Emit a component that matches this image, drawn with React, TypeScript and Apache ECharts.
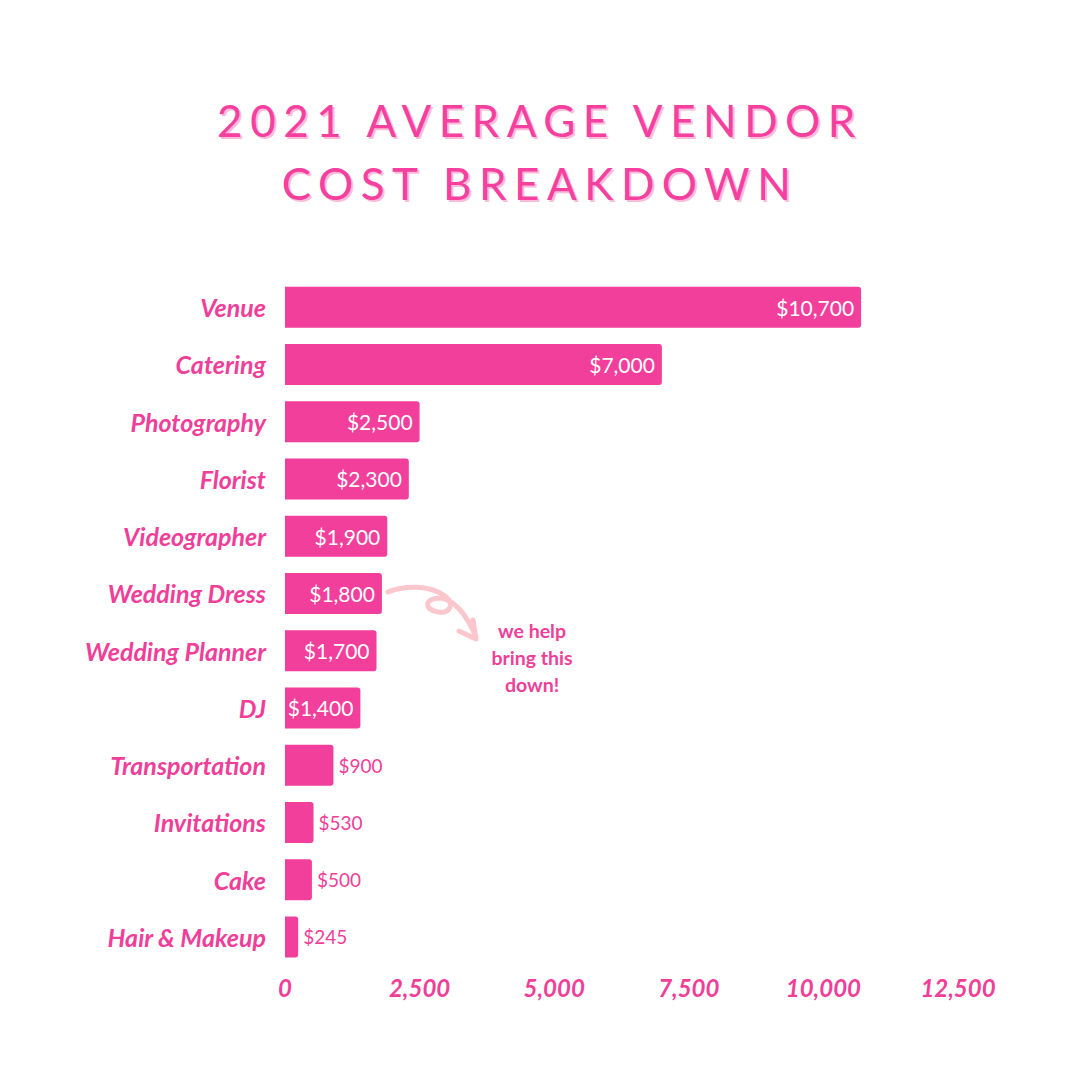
import React, { useEffect, useRef } from "react";
import * as echarts from "echarts";

const categories = [
  "Venue",
  "Catering",
  "Photography",
  "Florist",
  "Videographer",
  "Wedding Dress",
  "Wedding Planner",
  "DJ",
  "Transportation",
  "Invitations",
  "Cake",
  "Hair & Makeup",
];
const costs = [10700, 7000, 2500, 2300, 1900, 1800, 1700, 1400, 900, 530, 500, 245];
const xTicks = [0, 2500, 5000, 7500, 10000, 12500];
const titleLines = ["2021 AVERAGE VENDOR", "COST BREAKDOWN"];
const noteLines = ["we help", "bring this", "down!"];

const PINK = "#F23F9B";
const TEXT_PINK = "#EF3F99";
const LIGHT = "#FBC6CC";

const arrowPath =
  "M388,592 C405,585 430,585 445,596 C455,604 450,614 438,612 C424,610 424,598 440,598 C456,600 468,618 476,637 M459,631 L476,639 L473,620";

export default function App() {
  const ref = useRef<HTMLDivElement>(null);
  useEffect(() => {
    document.body.style.margin = "0";
    const style = document.createElement("style");
    style.textContent = `#root svg text[style*="44px"]{letter-spacing:7.5px;text-shadow:2px 2px 0 #F9BDDA;}`;
    document.head.appendChild(style);
    try {
      echarts.graphic.registerShape("noteArrow", echarts.graphic.extendPath(arrowPath, {}) as any);
    } catch (e) {}
    const chart = echarts.init(ref.current!, null, { renderer: "svg" });
    const fmt = (v: number) => "$" + v.toLocaleString("en-US");
    chart.setOption({
      animation: false,
      backgroundColor: "#ffffff",
      title: {
        text: titleLines.join("\n"),
        left: "center",
        top: 88,
        padding: [0, 0, 0, 8],
        textStyle: {
          fontFamily: "Lato",
          fontSize: 44,
          fontWeight: "normal",
          color: "#F5409F",
          lineHeight: 63,
        },
      },
      grid: { left: 285, right: 122, top: 278.5, bottom: 114.5 },
      xAxis: {
        type: "value",
        min: 0,
        max: 12500,
        interval: 2500,
        axisLine: { show: false },
        axisTick: { show: false },
        splitLine: { show: false },
        axisLabel: {
          margin: 10,
          color: TEXT_PINK,
          fontFamily: "Lato",
          fontStyle: "italic",
          fontWeight: "bold",
          fontSize: 24,
          formatter: (v: number) => (xTicks.includes(v) ? v.toLocaleString("en-US") : ""),
        },
      },
      yAxis: {
        type: "category",
        inverse: true,
        data: categories,
        axisLine: { show: false },
        axisTick: { show: false },
        axisLabel: {
          margin: 19,
          color: TEXT_PINK,
          fontFamily: "Lato",
          fontStyle: "italic",
          fontWeight: "bold",
          fontSize: 25,
        },
      },
      series: [
        {
          type: "bar",
          barWidth: 41,
          itemStyle: { color: PINK, borderRadius: [0, 3, 3, 0] },
          data: costs.map((v) => ({
            value: v,
            label:
              v >= 1000
                ? {
                    show: true,
                    position: "insideRight",
                    distance: 7,
                    color: "#ffffff",
                    fontFamily: "Lato",
                    fontSize: 21,
                    formatter: fmt(v),
                  }
                : {
                    show: true,
                    position: "right",
                    distance: 5,
                    color: TEXT_PINK,
                    fontFamily: "Lato",
                    fontSize: 19,
                    formatter: fmt(v),
                  },
          })),
        },
      ],
      graphic: [
        {
          type: "noteArrow",
          x: 0,
          y: 0,
          style: { fill: "none", stroke: LIGHT, lineWidth: 5, lineCap: "round", lineJoin: "round" },
        },
        {
          type: "text",
          x: 532,
          y: 657,
          style: {
            text: noteLines.join("\n"),
            fill: TEXT_PINK,
            fontFamily: "Lato",
            fontWeight: "bold",
            fontSize: 19.5,
            lineHeight: 27,
            align: "center",
            verticalAlign: "middle",
          },
        },
      ],
    });
    return () => {
      chart.dispose();
      style.remove();
    };
  }, []);
  return <div ref={ref} style={{ width: 1080, height: 1080 }} />;
}
